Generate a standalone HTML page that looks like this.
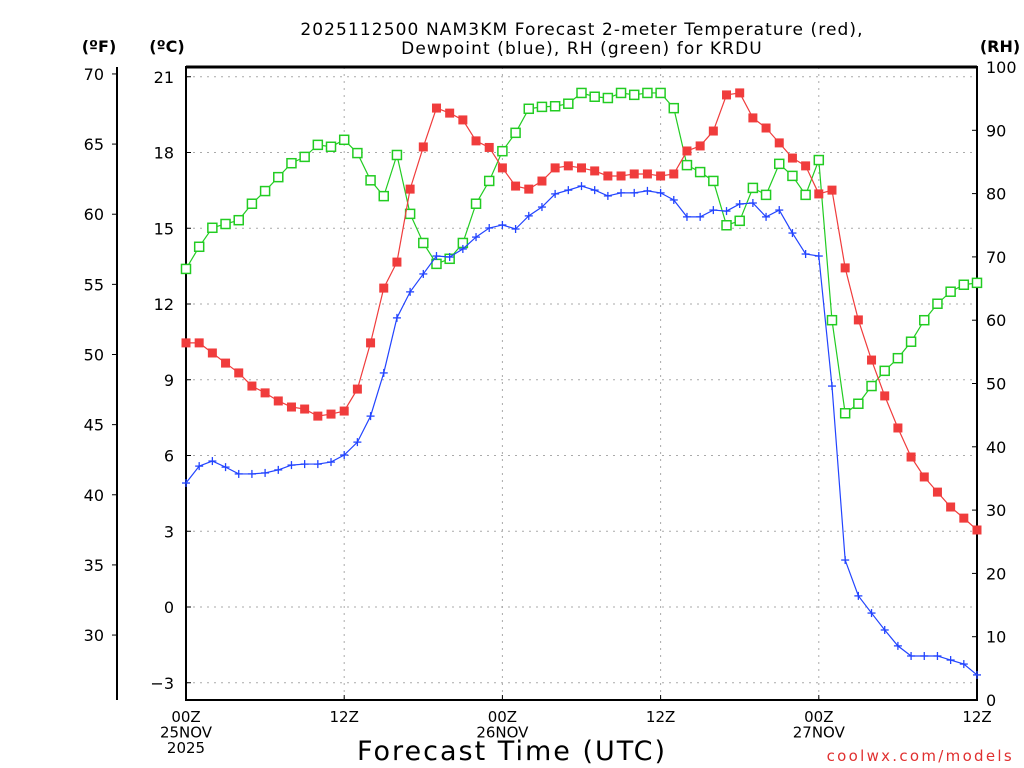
<!DOCTYPE html>
<html><head><meta charset="utf-8"><style>
body{margin:0;background:#fff;width:1024px;height:768px;overflow:hidden}
svg{display:block;font-family:"DejaVu Sans","Liberation Sans",sans-serif}
</style></head><body>
<svg id="chart" width="1024" height="768"></svg>
<script>
const hours = Array.from({length:61},(_,i)=>i);
const tempC = [10.46,10.46,10.06,9.66,9.27,8.75,8.48,8.16,7.92,7.84,7.56,7.64,7.76,8.63,10.46,12.63,13.66,16.55,18.22,19.76,19.56,19.29,18.46,18.2,17.39,16.67,16.55,16.87,17.39,17.47,17.39,17.27,17.07,17.07,17.15,17.15,17.07,17.15,18.06,18.26,18.85,20.28,20.36,19.37,18.97,18.38,17.78,17.47,16.36,16.51,13.43,11.37,9.78,8.36,7.09,5.94,5.15,4.55,3.96,3.52,3.05];
const dewC = [4.91,5.58,5.78,5.54,5.27,5.27,5.31,5.43,5.62,5.66,5.66,5.74,6.02,6.53,7.56,9.27,11.45,12.48,13.19,13.9,13.86,14.18,14.65,15.01,15.13,14.97,15.49,15.84,16.36,16.51,16.67,16.51,16.28,16.4,16.4,16.48,16.4,16.12,15.45,15.45,15.72,15.68,15.96,16.0,15.45,15.72,14.81,13.98,13.9,8.75,1.86,0.44,-0.24,-0.91,-1.54,-1.94,-1.94,-1.94,-2.1,-2.26,-2.69];
const rh = [68.1,71.6,74.6,75.2,75.8,78.4,80.4,82.6,84.8,85.8,87.7,87.4,88.5,86.4,82.1,79.6,86.1,76.8,72.2,68.9,69.7,72.2,78.4,82.0,86.7,89.6,93.4,93.7,93.8,94.2,95.9,95.3,95.1,95.9,95.6,95.9,95.9,93.5,84.5,83.4,82.0,75.0,75.7,80.9,79.8,84.7,82.8,79.8,85.3,60.0,45.3,46.8,49.6,52.0,54.0,56.6,60.0,62.6,64.5,65.6,65.9];
const cTicks = [-3,0,3,6,9,12,15,18,21];
const fTicks = [30,35,40,45,50,55,60,65,70];
const rhTicks = [0,10,20,30,40,50,60,70,80,90,100];
const xTickHours = [0,12,24,36,48,60];
const xTickLabels = [["00Z","25NOV","2025"],["12Z"],["00Z","26NOV"],["12Z"],["00Z","27NOV"],["12Z"]];

const X0=186,X1=977,Y0=67,Y1=700;
const xs=h=>X0+(X1-X0)*h/60;
const yC=c=>607-c*25.25;
const yF=f=>yC((f-32)*5/9);
const yR=r=>Y1-(Y1-Y0)*r/100;
const svg=document.getElementById('chart');
const NS='http://www.w3.org/2000/svg';
function mk(tag,attrs,parent){const e=document.createElementNS(NS,tag);for(const k in attrs)e.setAttribute(k,attrs[k]);(parent||svg).appendChild(e);return e;}
function txt(s,attrs){const t=mk('text',attrs);t.textContent=s;return t;}

const grid=mk('g',{});


cTicks.forEach(c=>{mk('line',{x1:X0,x2:X1,y1:yC(c),y2:yC(c),stroke:'#aaa','stroke-dasharray':'2,5'},grid);});
[12,24,36,48].forEach(h=>{mk('line',{x1:xs(h),x2:xs(h),y1:Y0,y2:Y1,stroke:'#aaa','stroke-dasharray':'2,5'},grid);});

const frame=mk('rect',{x:X0,y:Y0,width:X1-X0,height:Y1-Y0,fill:'none',stroke:'#000','stroke-width':2});


mk('line',{x1:X0,x2:X1,y1:Y0,y2:Y0,stroke:'#000','stroke-width':3});
mk('line',{x1:117,x2:117,y1:Y0,y2:Y1,stroke:'#000','stroke-width':2});

cTicks.forEach(c=>{const y=yC(c);mk('line',{x1:X0,x2:X0+5,y1:y,y2:y,stroke:'#000'});
const t=txt(c<0?'\u2212'+Math.abs(c):String(c),{x:174,y:y+6,'text-anchor':'end','font-size':16,fill:'#000'});

});
fTicks.forEach(f=>{const y=yF(f);mk('line',{x1:112,x2:117,y1:y,y2:y,stroke:'#000'});
const t=txt(String(f),{x:104,y:y+6,'text-anchor':'end','font-size':16,fill:'#000'});

});
rhTicks.forEach(r=>{const y=yR(r);mk('line',{x1:X1-5,x2:X1,y1:y,y2:y,stroke:'#000'});
const t=txt(String(r),{x:986,y:y+6,'text-anchor':'start','font-size':16,fill:'#000'});

});
xTickHours.forEach((h,i)=>{const x=xs(h);mk('line',{x1:x,x2:x,y1:Y1-5,y2:Y1,stroke:'#000'});
xTickLabels[i].forEach((s,j)=>{const t=txt(s,{x:x,y:722+j*15.5,'text-anchor':'middle','font-size':15,fill:'#000'});

});});

[['(ºF)',99],['(ºC)',167],['(RH)',1000]].forEach(([s,x])=>{const t=txt(s,{x:x,y:52,'text-anchor':'middle','font-size':16,'font-weight':'bold',fill:'#000'});

});

function series(vals,yfn,color,marker,name){
const g=mk('g',{});


mk('polyline',{points:vals.map((v,i)=>xs(hours[i])+','+yfn(v)).join(' '),fill:'none',stroke:color,'stroke-width':1.2},g);
vals.forEach((v,i)=>{const x=xs(hours[i]),y=yfn(v);
if(marker==='fill')mk('rect',{x:x-4.5,y:y-4.5,width:9,height:9,fill:color},g);
else if(marker==='open')mk('rect',{x:x-4.5,y:y-4.5,width:9,height:9,fill:'#fff',stroke:color,'stroke-width':1.5},g);
else{mk('line',{x1:x-4,x2:x+4,y1:y,y2:y,stroke:color,'stroke-width':1.3},g);mk('line',{x1:x,x2:x,y1:y-4,y2:y+4,stroke:color,'stroke-width':1.3},g);}});
}
series(rh,yR,'#22cc22','open','rh-series');
series(dewC,yC,'#2244ff','plus','dewpoint-series');
series(tempC,yC,'#f03c3c','fill','temperature-series');

const t1=txt('2025112500 NAM3KM Forecast 2-meter Temperature (red),',{x:582,y:35,'text-anchor':'middle','font-size':17,'letter-spacing':1.1,fill:'#000'});


const t2=txt('Dewpoint (blue), RH (green) for KRDU',{x:582,y:54,'text-anchor':'middle','font-size':17,'letter-spacing':1.1,fill:'#000'});


const xt=txt('Forecast Time (UTC)',{x:512,y:760,'text-anchor':'middle','font-size':27,'letter-spacing':2,fill:'#000'});


const cr=txt('coolwx.com/models',{x:1014,y:761,'text-anchor':'end','font-size':15,'letter-spacing':2.3,fill:'#e03030'});


</script>
</body></html>
